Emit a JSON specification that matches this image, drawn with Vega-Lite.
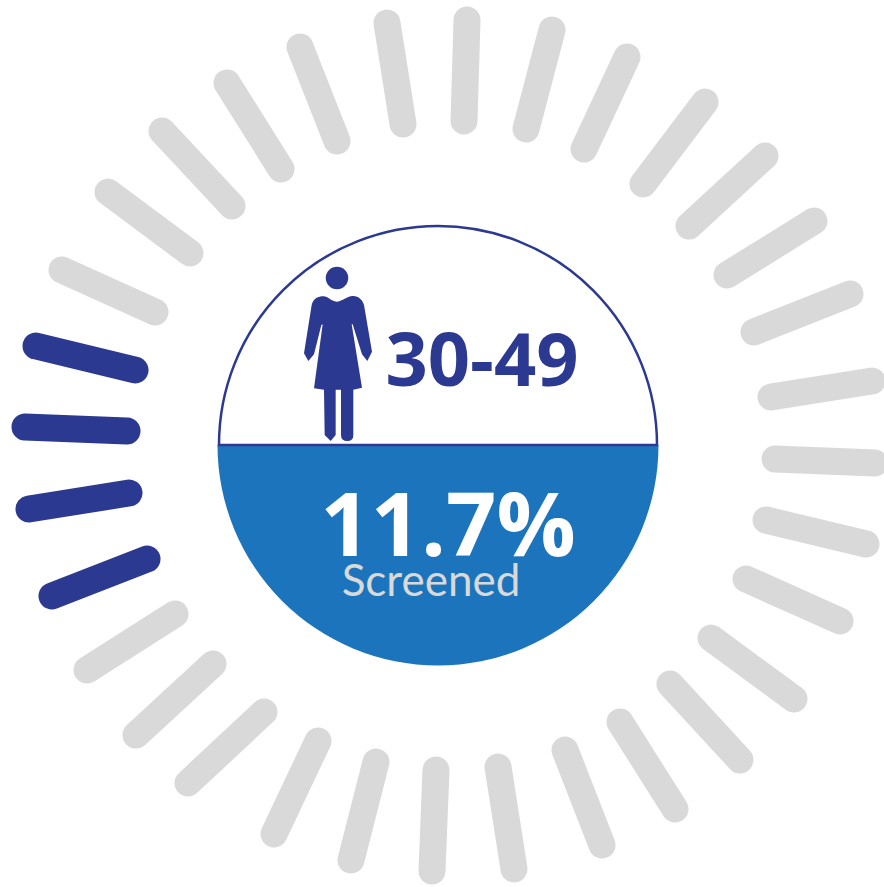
{
  "$schema": "https://vega.github.io/schema/vega-lite/v6.json",
  "width": 884,
  "height": 887,
  "padding": 0,
  "autosize": {"type": "none"},
  "background": "white",
  "view": {"stroke": null},
  "config": {"axis": {"grid": false}},
  "datasets": {
    "ticks": [
      {"tick": 1, "status": "screened", "x": -402, "y": 99, "xEnd": -303, "yEnd": 75},
      {"tick": 2, "status": "screened", "x": -413, "y": 18, "xEnd": -311, "yEnd": 14},
      {"tick": 3, "status": "screened", "x": -409, "y": -64, "xEnd": -309, "yEnd": -48},
      {"tick": 4, "status": "screened", "x": -386, "y": -151, "xEnd": -291, "yEnd": -114},
      {"tick": 5, "status": "other", "x": -376, "y": 175, "xEnd": -283, "yEnd": 133},
      {"tick": 6, "status": "other", "x": -330, "y": 253, "xEnd": -248, "yEnd": 192},
      {"tick": 7, "status": "other", "x": -276, "y": 314, "xEnd": -206, "yEnd": 239},
      {"tick": 8, "status": "other", "x": -211, "y": 362, "xEnd": -157, "yEnd": 276},
      {"tick": 9, "status": "other", "x": -138, "y": 398, "xEnd": -101, "yEnd": 304},
      {"tick": 10, "status": "other", "x": -51, "y": 422, "xEnd": -35, "yEnd": 321},
      {"tick": 11, "status": "other", "x": 29, "y": 425, "xEnd": 26, "yEnd": 324},
      {"tick": 12, "status": "other", "x": 114, "y": 415, "xEnd": 88, "yEnd": 316},
      {"tick": 13, "status": "other", "x": 189, "y": 388, "xEnd": 146, "yEnd": 296},
      {"tick": 14, "status": "other", "x": 267, "y": 343, "xEnd": 205, "yEnd": 261},
      {"tick": 15, "status": "other", "x": 327, "y": 289, "xEnd": 251, "yEnd": 219},
      {"tick": 16, "status": "other", "x": 376, "y": 224, "xEnd": 289, "yEnd": 170},
      {"tick": 17, "status": "other", "x": 412, "y": 151, "xEnd": 316, "yEnd": 113},
      {"tick": 18, "status": "other", "x": 434, "y": 64, "xEnd": 333, "yEnd": 48},
      {"tick": 19, "status": "other", "x": 437, "y": -18, "xEnd": 337, "yEnd": -14},
      {"tick": 20, "status": "other", "x": 428, "y": -99, "xEnd": 328, "yEnd": -75},
      {"tick": 21, "status": "other", "x": 402, "y": -176, "xEnd": 308, "yEnd": -134},
      {"tick": 22, "status": "other", "x": 356, "y": -254, "xEnd": 273, "yEnd": -193},
      {"tick": 23, "status": "other", "x": 302, "y": -315, "xEnd": 232, "yEnd": -239},
      {"tick": 24, "status": "other", "x": 237, "y": -364, "xEnd": 182, "yEnd": -277},
      {"tick": 25, "status": "other", "x": 164, "y": -400, "xEnd": 127, "yEnd": -305},
      {"tick": 26, "status": "other", "x": 76, "y": -424, "xEnd": 60, "yEnd": -322},
      {"tick": 27, "status": "other", "x": -6, "y": -426, "xEnd": -2, "yEnd": -325},
      {"tick": 28, "status": "other", "x": -87, "y": -415, "xEnd": -62, "yEnd": -317},
      {"tick": 29, "status": "other", "x": -164, "y": -389, "xEnd": -120, "yEnd": -296},
      {"tick": 30, "status": "other", "x": -250, "y": -338, "xEnd": -174, "yEnd": -267},
      {"tick": 31, "status": "other", "x": -302, "y": -290, "xEnd": -225, "yEnd": -219},
      {"tick": 32, "status": "other", "x": -351, "y": -225, "xEnd": -263, "yEnd": -169}
    ]
  },
  "layer": [
    {
      "data": {"name": "ticks"},
      "mark": {"type": "rule", "strokeCap": "round", "strokeWidth": 27},
      "encoding": {
        "x": {"field": "x", "type": "quantitative", "scale": {"domain": [-438, 446], "nice": false, "zero": false}, "axis": null},
        "y": {"field": "y", "type": "quantitative", "scale": {"domain": [-442, 445], "nice": false, "zero": false}, "axis": null},
        "x2": {"field": "xEnd"},
        "y2": {"field": "yEnd"},
        "color": {"field": "status", "type": "nominal", "legend": null, "scale": {"domain": ["screened", "other"], "range": ["#2b3990", "#d9d9d9"]}}
      }
    },
    {
      "data": {"values": [{"part": "screened", "from": 25, "to": 75}]},
      "mark": {"type": "arc", "radius": 220.5, "fill": "#1c75bc"},
      "encoding": {
        "x": {"datum": 0, "type": "quantitative"},
        "y": {"datum": 0, "type": "quantitative"},
        "theta": {"field": "from", "type": "quantitative", "scale": {"domain": [0, 100], "range": [0, 6.2832]}},
        "theta2": {"field": "to"}
      }
    },
    {
      "data": {"values": [{"part": "age band", "from": 75, "to": 125}]},
      "mark": {"type": "arc", "radius": 219, "fill": "white", "stroke": "#2b3990", "strokeWidth": 2.5},
      "encoding": {
        "x": {"datum": 0, "type": "quantitative"},
        "y": {"datum": 0, "type": "quantitative"},
        "theta": {"field": "from", "type": "quantitative", "scale": {"domain": [0, 100], "range": [0, 6.2832]}},
        "theta2": {"field": "to"}
      }
    },
    {
      "data": {"values": [{"part": "head"}]},
      "mark": {"type": "point", "shape": "circle", "filled": true, "size": 506, "fill": "#2b3990", "opacity": 1},
      "encoding": {
        "x": {"datum": -101, "type": "quantitative"},
        "y": {"datum": 167, "type": "quantitative"}
      }
    },
    {
      "data": {"values": [{"part": "figure"}]},
      "mark": {
        "type": "point",
        "filled": true,
        "fill": "#2b3990",
        "opacity": 1,
        "size": 0.4444,
        "shape": "M-50,-176 C-35,-176 -25,-160 -10,-160 C5,-160 20,-176 38,-177 C55,-178 68,-165 72,-150 L96,-10 L82,18 L66,-2 L38,-92 L35,-92 L66,98 L40,104 L40,240 Q40,258 22,258 Q3,258 3,240 L3,104 L-13,104 L-13,240 L-28,258 L-46,240 L-48,104 L-78,100 L-52,-92 L-56,-90 L-78,-2 L-95,18 L-108,-5 L-85,-150 C-80,-170 -65,-176 -50,-176 Z"
      },
      "encoding": {
        "x": {"datum": -98, "type": "quantitative"},
        "y": {"datum": 90, "type": "quantitative"}
      }
    },
    {
      "data": {"values": [{"label": "30-49", "x": 44, "y": 59}]},
      "mark": {"type": "text", "font": "Open Sans", "fontWeight": "bold", "fontSize": 74, "fill": "#2b3990", "align": "center", "baseline": "alphabetic"},
      "encoding": {
        "x": {"field": "x", "type": "quantitative"},
        "y": {"field": "y", "type": "quantitative"},
        "text": {"field": "label"}
      }
    },
    {
      "data": {"values": [{"label": "11.7%", "x": 10, "y": -111}]},
      "mark": {"type": "text", "font": "Open Sans", "fontWeight": "bold", "fontSize": 88, "fill": "white", "align": "center", "baseline": "alphabetic"},
      "encoding": {
        "x": {"field": "x", "type": "quantitative"},
        "y": {"field": "y", "type": "quantitative"},
        "text": {"field": "label"}
      }
    },
    {
      "data": {"values": [{"label": "Screened", "x": -7, "y": -151}]},
      "mark": {"type": "text", "font": "Lato", "fontSize": 44, "fill": "#d9d9d9", "align": "center", "baseline": "alphabetic"},
      "encoding": {
        "x": {"field": "x", "type": "quantitative"},
        "y": {"field": "y", "type": "quantitative"},
        "text": {"field": "label"}
      }
    }
  ]
}
